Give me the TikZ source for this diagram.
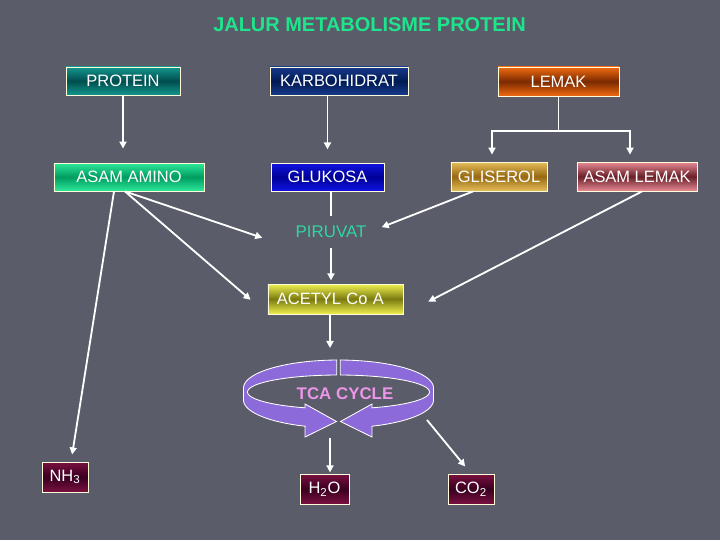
\documentclass[tikz,border=0pt]{standalone}
\usepackage{fontspec}
\setmainfont{Liberation Sans}
\usetikzlibrary{arrows.meta}
\definecolor{latar}{RGB}{90,92,106}
\definecolor{judulhijau}{RGB}{30,228,140}
\definecolor{piruvathijau}{RGB}{46,214,160}
\definecolor{tcapink}{RGB}{236,150,232}
\definecolor{ringpurple}{RGB}{140,106,218}
\definecolor{proteintop}{RGB}{20,150,142}
\definecolor{proteinmid}{RGB}{0,78,78}
\definecolor{karbotop}{RGB}{24,58,140}
\definecolor{karbomid}{RGB}{0,26,84}
\definecolor{lemaktop}{RGB}{240,106,16}
\definecolor{lemakmid}{RGB}{122,42,0}
\definecolor{aminotop}{RGB}{46,232,154}
\definecolor{aminomid}{RGB}{0,156,96}
\definecolor{glukosatop}{RGB}{16,20,226}
\definecolor{glukosamid}{RGB}{0,0,150}
\definecolor{gliseroltop}{RGB}{230,190,90}
\definecolor{gliserolmid}{RGB}{150,104,16}
\definecolor{lemakasamtop}{RGB}{232,138,150}
\definecolor{lemakasammid}{RGB}{106,32,40}
\definecolor{acetyltop}{RGB}{240,240,80}
\definecolor{acetylmid}{RGB}{122,122,16}
\definecolor{hasiltop}{RGB}{122,16,64}
\definecolor{hasilmid}{RGB}{58,0,32}
\begin{document}
\begin{tikzpicture}[x=0.025cm, y=-0.025cm,
  compound/.style={draw=white!85!yellow, line width=0.6pt, text=white,
    font=\fontsize{11.7}{13}\selectfont, minimum height=0.7cm, inner sep=0pt},
  gradfill/.style 2 args={top color=#1, bottom color=#1, middle color=#2},
  flow/.style={draw=white, line width=1.3pt, -{Triangle[length=5pt,width=5pt]}},
  link/.style={draw=white, line width=1.3pt},
  ring/.style={fill=ringpurple, draw=white, line width=0.6pt}]
  \fill[latar] (0,0) rectangle (720,540);
  \pgfmathsetmacro{\cx}{338.5}
  \node[font=\bfseries\fontsize{14.2}{17}\selectfont, text=judulhijau] (judul) at (369.5,25) {JALUR METABOLISME PROTEIN};
  % sumber
  \node[compound, gradfill={proteintop}{proteinmid}, minimum width=2.85cm] (protein) at (123,81) {PROTEIN};
  \node[compound, gradfill={karbotop}{karbomid}, minimum width=3.45cm] (karbo) at (339,81) {KARBOHIDRAT};
  \node[compound, gradfill={lemaktop}{lemakmid}, minimum width=3.025cm, minimum height=0.725cm] (lemak) at (558.5,81.5) {LEMAK};
  % hasil pemecahan
  \node[compound, gradfill={aminotop}{aminomid}, minimum width=3.75cm] (amino) at (129,177) {ASAM AMINO};
  \node[compound, gradfill={glukosatop}{glukosamid}, minimum width=2.825cm] (glukosa) at (327.5,177) {GLUKOSA};
  \node[compound, gradfill={gliseroltop}{gliserolmid}, minimum width=2.4cm, minimum height=0.725cm] (gliserol) at (499,176.5) {GLISEROL};
  \node[compound, gradfill={lemakasamtop}{lemakasammid}, minimum width=3cm, minimum height=0.725cm] (asamlemak) at (637,176.5) {ASAM LEMAK};
  \node[text=piruvathijau, font=\fontsize{12}{14}\selectfont, inner xsep=2pt, inner ysep=7pt] (piruvat) at (331,232) {PIRUVAT};
  \node[compound, gradfill={acetyltop}{acetylmid}, minimum height=0.75cm, text width=2.925cm, align=left, inner xsep=0.225cm] (acetyl) at (335.5,299) {ACETYL Co A};
  \node[compound, gradfill={hasiltop}{hasilmid}, minimum width=1.15cm, minimum height=0.75cm] (nh3) at (65,477) {NH\textsubscript{3}};
  \node[compound, gradfill={hasiltop}{hasilmid}, minimum width=1.225cm, minimum height=0.75cm] (h2o) at (324.5,489) {H\textsubscript{2}O};
  \node[compound, gradfill={hasiltop}{hasilmid}, minimum width=1.15cm, minimum height=0.75cm] (co2) at (471,489) {CO\textsubscript{2}};
  % siklus TCA
  \filldraw[ring] (336.7,375) -- (336.7,360)
    -- plot[domain=268.9:180, variable=\t, samples=30] ({\cx+95*cos(\t)},{388+28*sin(\t)})
    -- (243.5,400)
    -- plot[domain=180:110.6, variable=\t, samples=20] ({\cx+95*cos(\t)},{400+28*sin(\t)})
    -- (305,437) -- (336.5,421.5) -- (305,404) -- (305,407.8)
    -- plot[domain=111.6:268.9, variable=\t, samples=40] ({\cx+91*cos(\t)},{392+17*sin(\t)})
    -- cycle;
  \filldraw[ring] (340.3,375) -- (340.3,360)
    -- plot[domain=271.1:360, variable=\t, samples=30] ({\cx+95*cos(\t)},{388+28*sin(\t)})
    -- (433.5,400)
    -- plot[domain=0:69.4, variable=\t, samples=20] ({\cx+95*cos(\t)},{400+28*sin(\t)})
    -- (372,437) -- (340.5,421.5) -- (372,404) -- (372,407.8)
    -- plot[domain=68.4:-88.9, variable=\t, samples=40] ({\cx+91*cos(\t)},{392+17*sin(\t)})
    -- cycle;
  \node[text=tcapink, font=\bfseries\fontsize{12}{14}\selectfont] (tca) at (345,393.5) {TCA CYCLE};
  \coordinate (tcatop) at (330,348);
  \coordinate (tcabottom) at (330,438);
  \coordinate (tcaright) at (427,420);
  \coordinate (split) at (558.5,131);
  % panah
  \draw[flow, shorten >=0.35cm] (protein) -- (protein |- amino.north);
  \draw[flow, shorten >=0.33cm] (karbo.south -| glukosa) -- (glukosa);
  \draw[link] (lemak) -- (split);
  \draw[flow] (split) -| ([xshift=-0.175cm,yshift=0.175cm]gliserol.north);
  \draw[flow] (split) -| ([xshift=-0.175cm,yshift=0.175cm]asamlemak.north);
  \draw[link] (piruvat.north |- glukosa.south) -- (piruvat.north);
  \draw[flow, shorten >=0.08cm] (piruvat.south) -- (piruvat.south |- acetyl.north);
  \draw[flow, shorten >=0.8cm] ([xshift=-0.1cm]amino.south) -- (piruvat.south west);
  \draw[flow, shorten >=0.56cm] ([xshift=-0.1cm]amino.south) -- (acetyl.south west);
  \draw[flow, shorten >=0.18cm] ([xshift=-0.375cm]amino.south) -- ([xshift=0.15cm]nh3.north);
  \draw[flow, shorten >=0.33cm] ([xshift=-0.65cm]gliserol.south) -- (piruvat.east);
  \draw[flow, shorten >=0.7cm] ([xshift=0.125cm]asamlemak.south) -- (acetyl.south east);
  \draw[flow] (tcatop |- acetyl.south) -- (tcatop);
  \draw[flow, shorten >=0.03cm] (tcabottom) -- (tcabottom |- h2o.north);
  \draw[flow, shorten >=0.23cm] (tcaright) -- (co2.north);
\end{tikzpicture}
\end{document}
